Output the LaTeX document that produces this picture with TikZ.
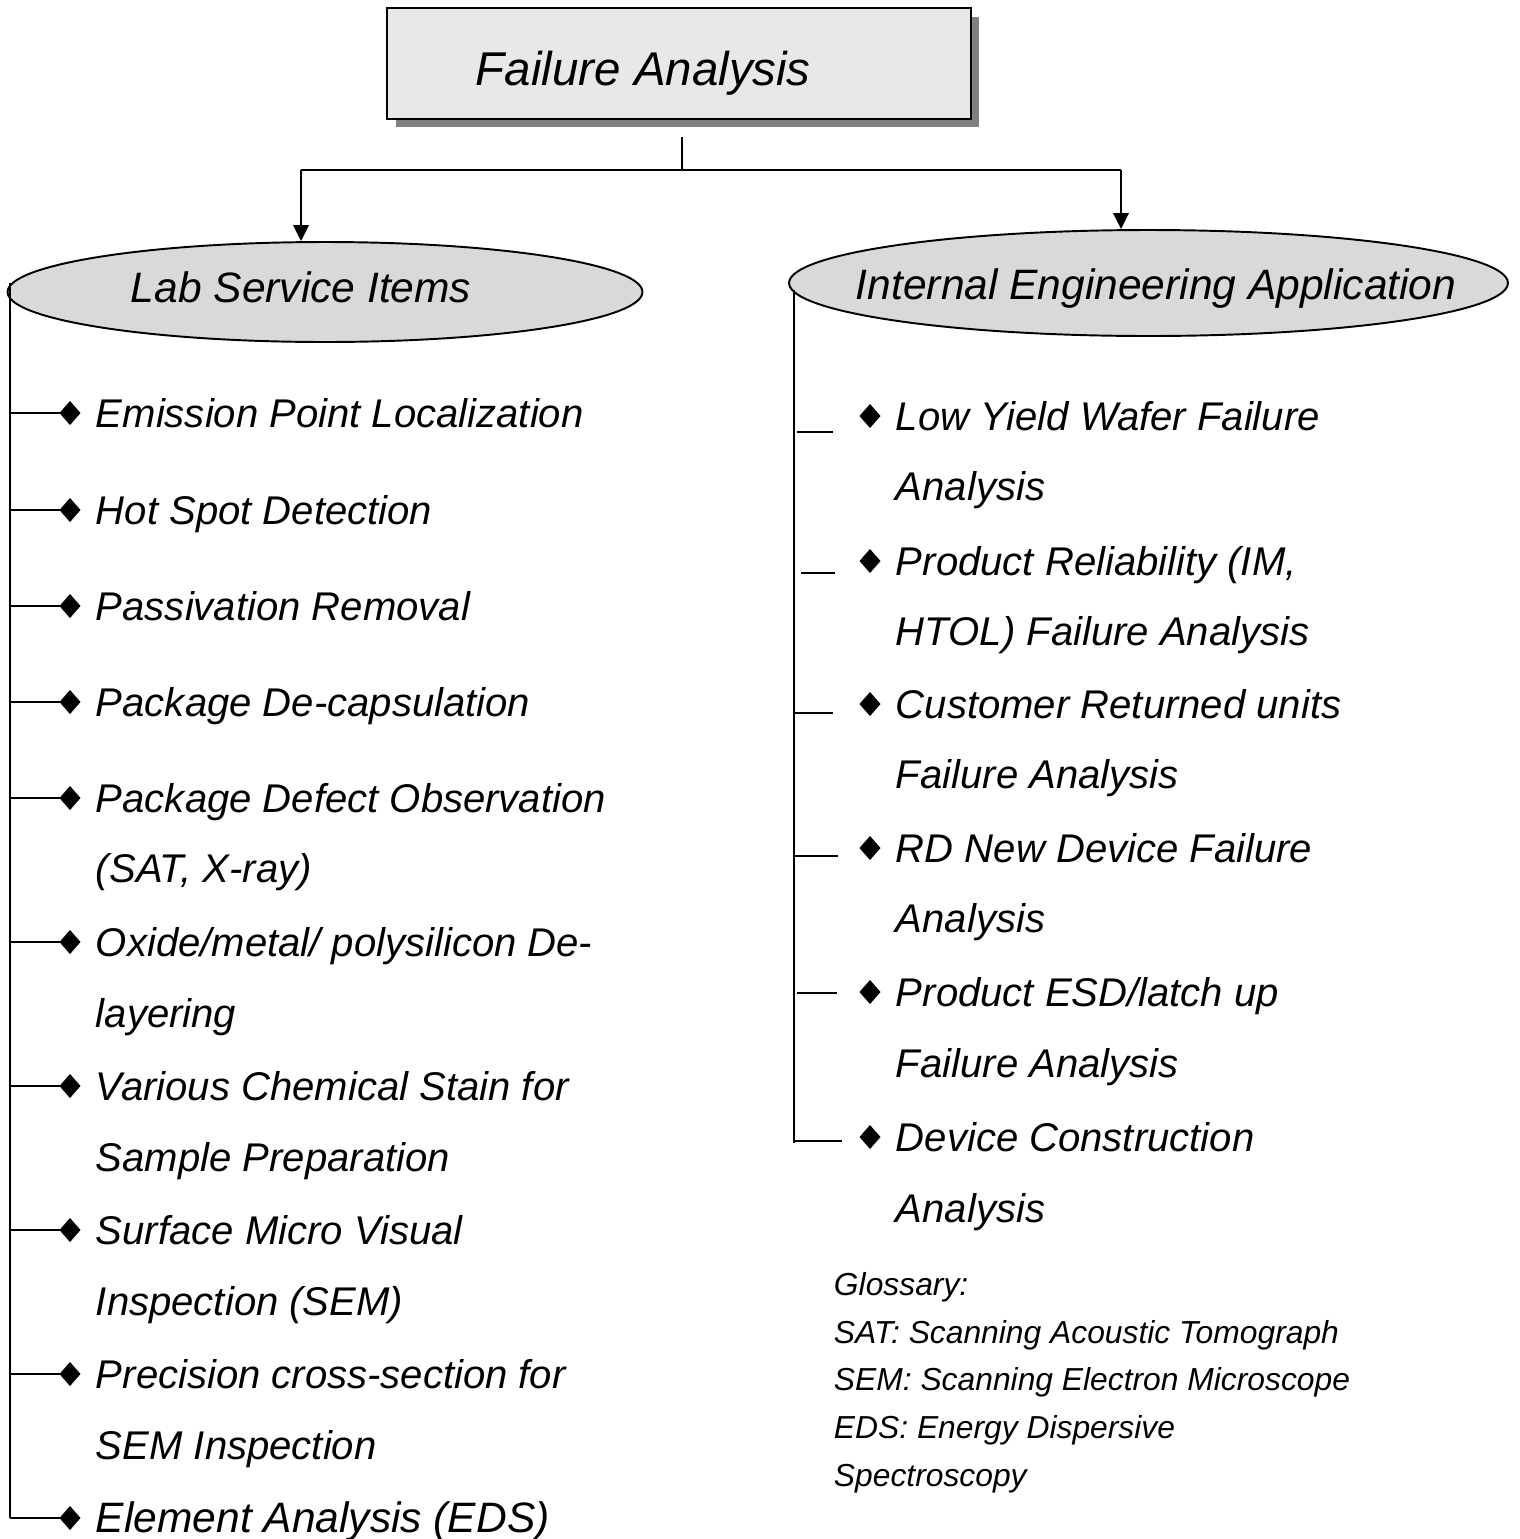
\documentclass[tikz,border=0pt]{standalone}
\usepackage{fontspec}
\setmainfont{Liberation Sans}
\usetikzlibrary{arrows.meta,shapes.geometric,shadows}
\newcommand\mytwo[2]{\parbox[t]{14cm}{\setlength{\baselineskip}{1.42cm}#1\\#2}}
\begin{document}
\begin{tikzpicture}[x=0.02cm,y=-0.02cm,line width=1.1pt,
  item/.style={anchor=base west,inner sep=0,font=\fontsize{22.8}{28}\selectfont\itshape},
  gloss/.style={anchor=base west,inner sep=0,font=\fontsize{18.1}{22}\selectfont\itshape},
  dia/.style={rectangle,draw=none,fill=white,inner sep=0,outer sep=0,minimum width=0.42cm,minimum height=0.48cm,
    path picture={\fill[black] (path picture bounding box.west) -- (path picture bounding box.north) -- (path picture bounding box.east) -- (path picture bounding box.south) -- cycle;}},
  arr/.style={-{Triangle[width=0.31cm,length=0.32cm]}},
  topbox/.style={draw,line width=1.3pt,fill=gray!18,minimum width=11.68cm,minimum height=2.22cm,inner sep=0,
    drop shadow={shadow xshift=0.17cm,shadow yshift=-0.17cm,fill=black!50,opacity=1}},
  ell/.style={ellipse,draw,fill=gray!30,inner sep=0},
  elltext/.style={anchor=base west,inner sep=0,font=\fontsize{24.2}{28}\selectfont\itshape},
  tick/.style={line width=1pt}]
\useasboundingbox (0,0) rectangle (1519,1539);
% top box
\node[topbox] (fa) at (679,63.5) {};
\node[anchor=base west,inner sep=0,font=\fontsize{27}{32}\selectfont\itshape] (fat) at (475,85) {Failure Analysis};
% ellipses
\node[ell,minimum width=12.7cm,minimum height=2cm] (lab) at (325,292) {};
\node[elltext] (labt) at (130,302) {Lab Service Items};
\node[ell,minimum width=14.38cm,minimum height=2.12cm] (iea) at (1148.5,283) {};
\node[elltext] (ieat) at (855,299) {Internal Engineering Application};
% tree connectors
\coordinate (hubtop) at (682,137);
\coordinate (hub) at (682,170);
\coordinate (hubL) at (301,170);
\coordinate (hubR) at (1121,170);
\draw (hubtop) -- (hub);
\draw (hubL) -- (hubR);
\draw[arr] (hubL) -- (hubL |- lab.north);
\draw[arr] (hubR) -- (hubR |- iea.north);
% left spine
\coordinate (ls0) at (10,283);
\coordinate (ls1) at (10,1518);
\draw (ls0) -- (ls1);
% left items
\foreach \n/\y in {1/413,2/510,3/606,4/702,5/798,6/942,7/1086,8/1230,9/1374,10/1518}{
  \node[dia] (ld\n) at (70,\y) {};
  \coordinate (lb\n) at (10,\y);
  \draw (lb\n) -- (ld\n.west);
}
\node[item] (l1) at (95,427) {Emission Point Localization};
\node[item] (l2) at (95,524) {Hot Spot Detection};
\node[item] (l3) at (95,620) {Passivation Removal};
\node[item] (l4) at (95,716) {Package De-capsulation};
\node[item] (l5) at (95,812) {\mytwo{Package Defect Observation}{(SAT, X-ray)}};
\node[item] (l6) at (95,956) {\mytwo{Oxide/metal/ polysilicon De-}{layering}};
\node[item] (l7) at (95,1100) {\mytwo{Various Chemical Stain for}{Sample Preparation}};
\node[item] (l8) at (95,1244) {\mytwo{Surface Micro Visual}{Inspection (SEM)}};
\node[item] (l9) at (95,1388) {\mytwo{Precision cross-section for}{SEM Inspection}};
\node[item,font=\fontsize{24.2}{28}\selectfont\itshape] (l10) at (95,1532) {Element Analysis (EDS)};
% right spine
\coordinate (rs0) at (794,290);
\coordinate (rs1) at (794,1143);
\draw (rs0) -- (rs1);
% right ticks
\draw[tick] (797,432) -- (833,432);
\draw[tick] (801,573) -- (835,573);
\draw[tick] (795,713) -- (833,713);
\draw[tick] (795,856) -- (838,856);
\draw[tick] (797,993) -- (837,993);
\draw[tick] (794,1141) -- (842,1141);
% right items
\foreach \n/\y in {1/416,2/561,3/704,4/848,5/992,6/1137}{
  \node[dia] (rd\n) at (870,\y) {};
}
\node[item] (r1) at (895,430) {\mytwo{Low Yield Wafer Failure}{Analysis}};
\node[item] (r2) at (895,575) {\mytwo{Product Reliability (IM,}{HTOL) Failure Analysis}};
\node[item] (r3) at (895,718) {\mytwo{Customer Returned units}{Failure Analysis}};
\node[item] (r4) at (895,862) {\mytwo{RD New Device Failure}{Analysis}};
\node[item] (r5) at (895,1006) {\mytwo{Product ESD/latch up}{Failure Analysis}};
\node[item] (r6) at (895,1151) {\mytwo{Device Construction}{Analysis}};
% glossary
\node[gloss] (gl) at (833,1295) {\parbox[t]{14cm}{\setlength{\baselineskip}{0.96cm}Glossary:\\SAT: Scanning Acoustic Tomograph\\SEM: Scanning Electron Microscope\\EDS: Energy Dispersive\\Spectroscopy}};
\end{tikzpicture}
\end{document}
